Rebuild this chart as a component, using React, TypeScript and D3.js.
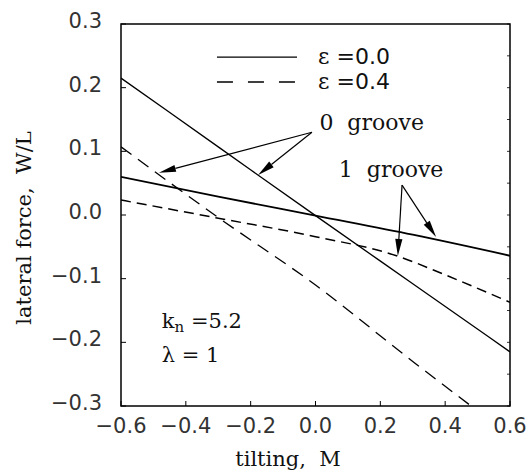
import React from "react";
import * as d3 from "d3";

// tilting M vs lateral force W/L
const noGrooveSolid: [number, number][] = [
  [-0.6, 0.215],
  [-0.3, 0.107],
  [0.0, -0.001],
  [0.3, -0.108],
  [0.6, -0.215],
];
const oneGrooveSolid: [number, number][] = [
  [-0.6, 0.06],
  [-0.3, 0.029],
  [0.0, -0.001],
  [0.3, -0.031],
  [0.6, -0.064],
];
const noGrooveDashed: [number, number][] = [
  [-0.6, 0.107],
  [-0.3, -0.004],
  [0.0, -0.11],
  [0.3, -0.23],
  [0.48, -0.3],
];
const oneGrooveDashed: [number, number][] = [
  [-0.6, 0.0235],
  [-0.3, -0.005],
  [0.0, -0.034],
  [0.25, -0.064],
  [0.4, -0.094],
  [0.6, -0.137],
];

const xTicks = [-0.6, -0.4, -0.2, 0.0, 0.2, 0.4, 0.6];
const yTicks = [-0.3, -0.2, -0.1, 0.0, 0.1, 0.2, 0.3];
const yMinor = d3.range(-0.3, 0.3001, 0.05);

// annotation arrows: [from, to] in data units
const grooveArrows0: [number, number][][] = [
  [[-0.011, 0.13], [-0.483, 0.0664]],
  [[-0.011, 0.13], [-0.177, 0.0628]],
];
const grooveArrows1: [number, number][][] = [
  [[0.267, 0.047], [0.254, -0.0644]],
  [[0.267, 0.047], [0.372, -0.0346]],
];

const width = 530;
const height = 474;
const margin = { top: 24, right: 20, bottom: 68, left: 121 };

const fmt = (v: number) => {
  const s = Math.abs(v).toFixed(1);
  return v < -1e-9 ? "\u2212" + s : s;
};

function Arrow({ x1, y1, x2, y2 }: { x1: number; y1: number; x2: number; y2: number }) {
  const dx = x2 - x1;
  const dy = y2 - y1;
  const len = Math.sqrt(dx * dx + dy * dy);
  const ux = dx / len;
  const uy = dy / len;
  const hl = 17;
  const hw = 3.6;
  const bx = x2 - ux * hl;
  const by = y2 - uy * hl;
  const pts = [
    [x2, y2],
    [bx - uy * hw, by + ux * hw],
    [bx + uy * hw, by - ux * hw],
  ];
  return (
    <g>
      <line x1={x1} y1={y1} x2={bx} y2={by} stroke="#000" strokeWidth={1.2} />
      <polygon points={pts.map((p) => p.join(",")).join(" ")} fill="#000" />
    </g>
  );
}

export default function App() {
  const x = d3
    .scaleLinear()
    .domain([-0.6, 0.6])
    .range([margin.left, width - margin.right]);
  const y = d3
    .scaleLinear()
    .domain([-0.3, 0.3])
    .range([height - margin.bottom, margin.top]);

  const line = d3
    .line<[number, number]>()
    .x((d) => x(d[0]))
    .y((d) => y(d[1]))
    .curve(d3.curveMonotoneX);

  const sans = "DejaVu Sans, sans-serif";
  const serif = "DejaVu Serif, serif";
  const pre = { whiteSpace: "pre" as const };
  const x0 = x.range()[0];
  const x1 = x.range()[1];
  const y0 = y.range()[0];
  const y1 = y.range()[1];

  return (
    <svg
      width={width}
      height={height}
      style={{ position: "absolute", left: 0, top: 0, background: "#fff" }}
    >
      <defs>
        <clipPath id="plot">
          <rect x={x0} y={y1} width={x1 - x0} height={y0 - y1} />
        </clipPath>
      </defs>

      {/* frame */}
      <rect x={x0} y={y1} width={x1 - x0} height={y0 - y1} fill="none" stroke="#000" strokeWidth={1.5} />

      {/* ticks */}
      {xTicks.map((t) => (
        <line key={"xt" + t} x1={x(t)} x2={x(t)} y1={y0} y2={y0 - 5} stroke="#000" strokeWidth={1} />
      ))}
      {yTicks.map((t) => (
        <line key={"yt" + t} x1={x0} x2={x0 + 5} y1={y(t)} y2={y(t)} stroke="#000" strokeWidth={1} />
      ))}
      {yMinor.map((t) => (
        <line key={"ym" + t} x1={x1} x2={x1 - 3} y1={y(t)} y2={y(t)} stroke="#000" strokeWidth={0.8} />
      ))}

      {/* tick labels */}
      {xTicks.map((t) => (
        <text key={"xl" + t} x={x(t)} y={y0 + 27} textAnchor="middle" fontFamily={sans} fontSize={21} fill="#333">
          {fmt(t)}
        </text>
      ))}
      {yTicks.map((t) => (
        <text key={"yl" + t} x={x0 - 19} y={y(t) + 4} textAnchor="end" fontFamily={sans} fontSize={21} fill="#333">
          {fmt(t)}
        </text>
      ))}

      {/* axis titles */}
      <text x={288} y={466} textAnchor="middle" fontFamily={serif} fontSize={21} fill="#111" style={pre}>
        tilting,  M
      </text>
      <text
        transform="translate(31,228) rotate(-90)"
        textAnchor="middle"
        fontFamily={serif}
        fontSize={21}
        fill="#111"
        style={pre}
      >
        lateral force,  W/L
      </text>

      {/* curves */}
      <g clipPath="url(#plot)" fill="none" stroke="#000">
        <path d={line(noGrooveSolid) || ""} strokeWidth={1.3} />
        <path d={line(oneGrooveSolid) || ""} strokeWidth={1.8} />
        <path d={line(noGrooveDashed) || ""} strokeWidth={1.3} strokeDasharray="13,8" />
        <path d={line(oneGrooveDashed) || ""} strokeWidth={1.5} strokeDasharray="10,6" />
      </g>

      {/* legend */}
      <line x1={x(-0.304)} x2={x(-0.057)} y1={y(0.248)} y2={y(0.248)} stroke="#000" strokeWidth={1.4} />
      <line
        x1={x(-0.304)}
        x2={x(-0.057)}
        y1={y(0.209)}
        y2={y(0.209)}
        stroke="#000"
        strokeWidth={1.4}
        strokeDasharray="16,15"
      />
      <text x={x(0.008)} y={y(0.248) + 7} fontSize={22} fill="#111">
        <tspan fontFamily={serif}>ε</tspan>
        <tspan fontFamily={sans}> =0.0</tspan>
      </text>
      <text x={x(0.008)} y={y(0.209) + 7} fontSize={22} fill="#111">
        <tspan fontFamily={serif}>ε</tspan>
        <tspan fontFamily={sans}> =0.4</tspan>
      </text>

      {/* annotations */}
      {grooveArrows0.concat(grooveArrows1).map((a, i) => (
        <Arrow key={"ar" + i} x1={x(a[0][0])} y1={y(a[0][1])} x2={x(a[1][0])} y2={y(a[1][1])} />
      ))}
      <text x={x(0.012)} y={y(0.133)} fontFamily={serif} fontSize={22} fill="#111" style={pre}>
        0  groove
      </text>
      <text x={x(0.072)} y={y(0.06)} fontFamily={serif} fontSize={22} fill="#111" style={pre}>
        1  groove
      </text>

      <text x={x(-0.474)} y={y(-0.178)} fontFamily={serif} fontSize={21} fill="#111">
        k
        <tspan fontSize={15} dy={4}>n</tspan>
        <tspan dy={-4}> =5.2</tspan>
      </text>
      <text x={x(-0.474)} y={y(-0.231)} fontFamily={serif} fontSize={21} fill="#111">
        λ = 1
      </text>
    </svg>
  );
}
